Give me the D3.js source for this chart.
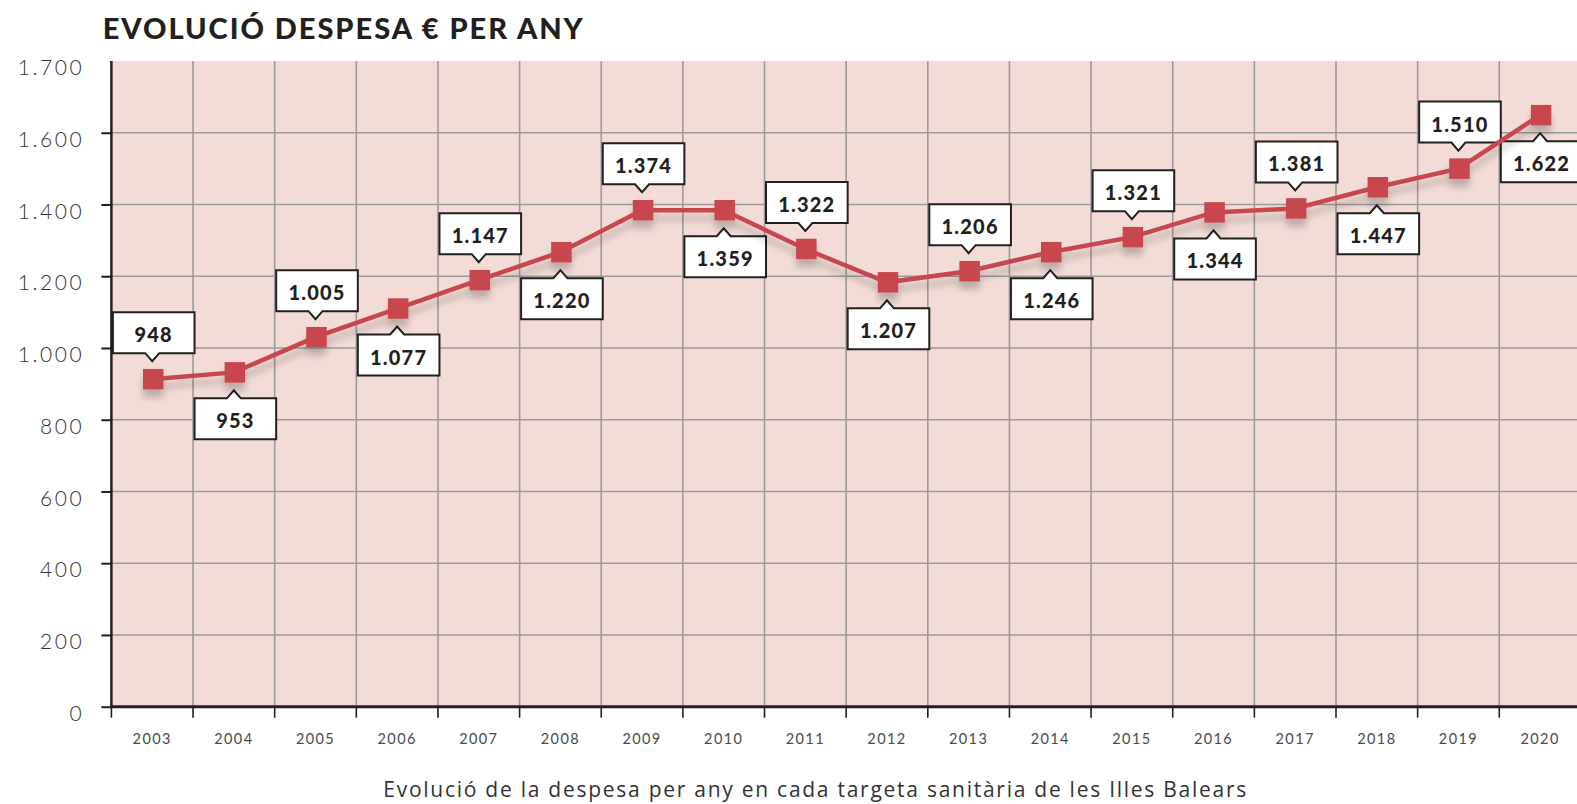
<!DOCTYPE html>
<html>
<head>
<meta charset="utf-8">
<script src="https://cdn.jsdelivr.net/npm/d3@7"></script>
<style>
  html, body { margin: 0; padding: 0; background: #ffffff; }
  svg { display: block; }
</style>
</head>
<body>
<svg id="chart" width="1577" height="804"></svg>
<script>
// ---------- data ----------
const years = ["2003","2004","2005","2006","2007","2008","2009","2010","2011","2012","2013","2014","2015","2016","2017","2018","2019","2020"];
// values as plotted
const plotted = [913, 932, 1030, 1110, 1189, 1267, 1384, 1384, 1276, 1183, 1214, 1267, 1309, 1378, 1389, 1448, 1500, 1649];
// values printed in the callouts
const reported = [948, 953, 1005, 1077, 1147, 1220, 1374, 1359, 1322, 1207, 1206, 1246, 1321, 1344, 1381, 1447, 1510, 1622];
const yTicks = [0, 200, 400, 600, 800, 1000, 1200, 1400, 1600, 1800];
const yTickLabels = ["0", "200", "400", "600", "800", "1.000", "1.200", "1.400", "1.600", "1.700"];
const titleText = "EVOLUCIÓ DESPESA € PER ANY";
const subtitleText = "Evolució de la despesa per any en cada targeta sanitària de les Illes Balears";

// ---------- layout ----------
const mLeft = 111.4, mTop = 61, mBottom = 706.7;
const band = 81.64;
const mRight = mLeft + band * years.length;

const svg = d3.select("#chart");
const fmt = d3.formatLocale({decimal: ",", thousands: ".", grouping: [3], currency: ["", "€"]}).format(",d");

const x = d3.scaleBand().domain(years).range([mLeft, mRight]).paddingInner(0).paddingOuter(0);
const y = d3.scaleLinear().domain([0, 1800]).range([mBottom, mTop]);

// drop shadow filter
const defs = svg.append("defs");
const f = defs.append("filter").attr("id", "shadow").attr("x", "-10%").attr("y", "-30%").attr("width", "120%").attr("height", "170%");
f.append("feGaussianBlur").attr("in", "SourceAlpha").attr("stdDeviation", 3.5).attr("result", "b");
f.append("feOffset").attr("in", "b").attr("dx", 0).attr("dy", 8).attr("result", "o");
f.append("feComponentTransfer").attr("in", "o").attr("result", "s")
  .append("feFuncA").attr("type", "linear").attr("slope", 0.22);
const fm = f.append("feMerge");
fm.append("feMergeNode").attr("in", "s");
fm.append("feMergeNode").attr("in", "SourceGraphic");

// plot background
svg.append("rect")
  .attr("x", mLeft).attr("y", mTop)
  .attr("width", mRight - mLeft).attr("height", mBottom - mTop)
  .attr("fill", "#f3dcd7");

// horizontal grid
svg.append("g")
  .selectAll("line")
  .data(yTicks.filter(d => d > 0 && d < 1800))
  .join("line")
  .attr("x1", mLeft).attr("x2", mRight)
  .attr("y1", d => y(d)).attr("y2", d => y(d))
  .attr("stroke", "#9d9a9a").attr("stroke-width", 1.6);

// vertical grid (band boundaries)
svg.append("g")
  .selectAll("line")
  .data(years.slice(1))
  .join("line")
  .attr("x1", d => x(d)).attr("x2", d => x(d))
  .attr("y1", mTop).attr("y2", mBottom)
  .attr("stroke", "#9d9a9a").attr("stroke-width", 1.6);

// y axis
const yAxis = d3.axisLeft(y)
  .tickValues(yTicks)
  .tickFormat((d, i) => yTickLabels[i])
  .tickSize(10)
  .tickPadding(0);
const gy = svg.append("g").attr("transform", `translate(${mLeft},0)`).call(yAxis);
gy.select(".domain").remove();
gy.selectAll(".tick line").attr("stroke", "#231f20").attr("stroke-width", 2)
  .filter(d => d === 1800).remove();
gy.selectAll(".tick text")
  .attr("x", -27)
  .attr("dy", "0.32em")
  .attr("y", 7)
  .style("font-family", "Lato, 'Open Sans', sans-serif")
  .style("font-weight", 300)
  .style("font-size", "21px")
  .style("letter-spacing", "2.6px")
  .attr("fill", "#333");

svg.append("line")
  .attr("x1", mLeft).attr("x2", mLeft).attr("y1", mTop).attr("y2", mBottom + 1)
  .attr("stroke", "#231f20").attr("stroke-width", 2.5);

// x axis
const xAxis = d3.axisBottom(x).tickSize(0).tickPadding(0);
const gx = svg.append("g").attr("transform", `translate(0,${mBottom})`).call(xAxis);
gx.select(".domain").remove();
gx.selectAll(".tick text")
  .attr("y", 37)
  .attr("dy", 0)
  .style("font-family", "Lato, 'Open Sans', sans-serif")
  .style("font-weight", 400)
  .style("font-size", "14.5px")
  .style("letter-spacing", "1.4px")
  .attr("fill", "#4a4a4a");
// x ticks at band boundaries
svg.append("g")
  .selectAll("line")
  .data(years)
  .join("line")
  .attr("x1", d => x(d)).attr("x2", d => x(d))
  .attr("y1", mBottom).attr("y2", mBottom + 11)
  .attr("stroke", "#231f20").attr("stroke-width", 1.6);
svg.append("line")
  .attr("x1", mLeft - 1).attr("x2", mRight)
  .attr("y1", mBottom).attr("y2", mBottom)
  .attr("stroke", "#231f20").attr("stroke-width", 3);

// callouts
const cx = d => x(d) + x.bandwidth() / 2;
const pts = years.map((yr, i) => ({yr, v: plotted[i], r: reported[i], up: i % 2 === 0}));
const boxH = 41, gap = 26, ptrH = 8, ptrW = 7;
function calloutPath(d) {
  const x0 = x(d.yr) + 1.5, x1 = x0 + band, c = cx(d.yr), cy = y(d.v);
  if (d.up) {
    const b = cy - gap, t = b - boxH;
    return `M${x0},${t}H${x1}V${b}H${c + ptrW}L${c},${b + ptrH}L${c - ptrW},${b}H${x0}Z`;
  } else {
    const t = cy + gap, b = t + boxH;
    return `M${x0},${t}H${c - ptrW}L${c},${t - ptrH}L${c + ptrW},${t}H${x1}V${b}H${x0}Z`;
  }
}
const call = svg.append("g").selectAll("g").data(pts).join("g");
call.append("path")
  .attr("d", calloutPath)
  .attr("fill", "#ffffff")
  .attr("stroke", "#231f20")
  .attr("stroke-width", 2)
  .attr("stroke-linejoin", "miter");
call.append("text")
  .attr("x", d => x(d.yr) + 1.5 + band / 2)
  .attr("y", d => d.up ? y(d.v) - gap - boxH + 30 : y(d.v) + gap + 30)
  .attr("text-anchor", "middle")
  .style("font-family", "Lato, sans-serif")
  .style("font-weight", 900)
  .style("font-size", "20px")
  .style("letter-spacing", "1.2px")
  .attr("fill", "#231f20")
  .text(d => fmt(d.r));

// line + markers
const gl = svg.append("g").attr("filter", "url(#shadow)");
gl.append("path")
  .datum(pts)
  .attr("fill", "none")
  .attr("stroke", "#c8464f")
  .attr("stroke-width", 4.5)
  .attr("d", d3.line().x(d => cx(d.yr)).y(d => y(d.v)));
const ms = 20.5;
gl.selectAll("rect")
  .data(pts)
  .join("rect")
  .attr("x", d => cx(d.yr) - ms / 2 + 1)
  .attr("y", d => y(d.v) - ms / 2)
  .attr("width", ms).attr("height", ms)
  .attr("fill", "#c8464f");

// title
svg.append("text")
  .attr("x", 102.7).attr("y", 39)
  .attr("textLength", 480).attr("lengthAdjust", "spacing")
  .style("font-family", "Lato, sans-serif")
  .style("font-weight", 900)
  .style("font-size", "29px")
  .attr("fill", "#231f20")
  .text(titleText);

// subtitle
svg.append("text")
  .attr("x", 383.3).attr("y", 796.5)
  .attr("textLength", 863).attr("lengthAdjust", "spacing")
  .style("font-family", "'Open Sans', sans-serif")
  .style("font-weight", 400)
  .style("font-size", "21px")
  .attr("fill", "#333")
  .text(subtitleText);
</script>
</body>
</html>
